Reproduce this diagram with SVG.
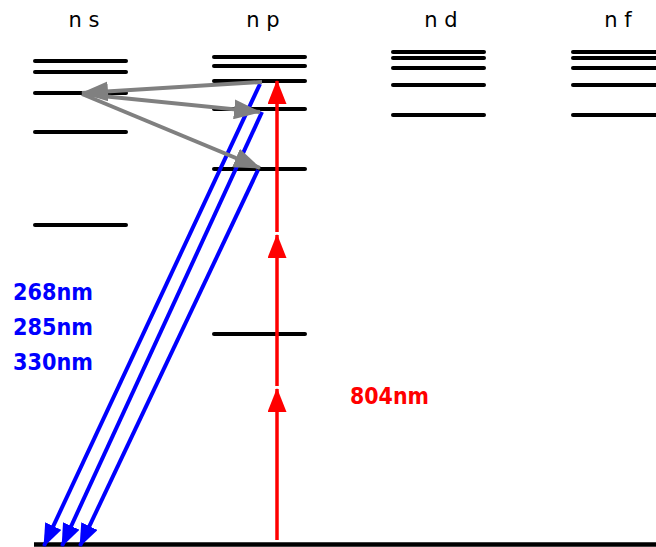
<svg xmlns="http://www.w3.org/2000/svg" width="656" height="547" viewBox="0 0 656 547">
<style>
.lvl{stroke:#000;stroke-width:4;stroke-linecap:round;fill:none}
.hdr{font-family:"DejaVu Sans",sans-serif;font-size:21px;fill:#000;text-anchor:middle}
.wl{font-family:"DejaVu Sans",sans-serif;font-size:23px;font-weight:bold}
.blue{stroke:#0000ff;stroke-width:4;fill:none}
.red{stroke:#ff0000;stroke-width:3.5;fill:none}
.gray{stroke:#808080;stroke-width:4;fill:none}
</style>
<defs>
<marker id="ab" viewBox="0 0 23 18" refX="22" refY="9" markerWidth="23" markerHeight="18" markerUnits="userSpaceOnUse" orient="auto"><path d="M0,0 L23,9 L0,18 z" fill="#0000ff"/></marker>
<marker id="ar" viewBox="0 0 24 19" refX="23" refY="9.5" markerWidth="24" markerHeight="19" markerUnits="userSpaceOnUse" orient="auto"><path d="M0,0 L24,9.5 L0,19 z" fill="#ff0000"/></marker>
<marker id="ag" viewBox="0 0 27 20" refX="26" refY="10" markerWidth="27" markerHeight="20" markerUnits="userSpaceOnUse" orient="auto"><path d="M0,0 L27,10 L0,20 z" fill="#808080"/></marker>
</defs>
<g id="labels">
<text class="hdr" x="84" y="27">n s</text>
<text class="hdr" x="263" y="27">n p</text>
<text class="hdr" x="441" y="27">n d</text>
<text class="hdr" x="618" y="27">n f</text>
</g>
<g id="ns">
<line class="lvl" x1="35" y1="61" x2="126" y2="61"/>
<line class="lvl" x1="35" y1="72" x2="126" y2="72"/>
<line class="lvl" x1="35" y1="93" x2="126" y2="93"/>
<line class="lvl" x1="35" y1="132" x2="126" y2="132"/>
<line class="lvl" x1="35" y1="225" x2="126" y2="225"/>
</g>
<g id="np">
<line class="lvl" x1="214" y1="57" x2="305" y2="57"/>
<line class="lvl" x1="214" y1="66" x2="305" y2="66"/>
<line class="lvl" x1="214" y1="81" x2="305" y2="81"/>
<line class="lvl" x1="214" y1="109" x2="305" y2="109"/>
<line class="lvl" x1="214" y1="169" x2="305" y2="169"/>
<line class="lvl" x1="214" y1="334" x2="305" y2="334"/>
</g>
<g id="nd">
<line class="lvl" x1="393" y1="52" x2="484" y2="52"/>
<line class="lvl" x1="393" y1="58" x2="484" y2="58"/>
<line class="lvl" x1="393" y1="68" x2="484" y2="68"/>
<line class="lvl" x1="393" y1="85" x2="484" y2="85"/>
<line class="lvl" x1="393" y1="115" x2="484" y2="115"/>
</g>
<g id="nf">
<line class="lvl" x1="573" y1="52" x2="664" y2="52"/>
<line class="lvl" x1="573" y1="58" x2="664" y2="58"/>
<line class="lvl" x1="573" y1="68" x2="664" y2="68"/>
<line class="lvl" x1="573" y1="85" x2="664" y2="85"/>
<line class="lvl" x1="573" y1="115" x2="664" y2="115"/>
</g>
<g id="ground">
<line x1="34" y1="544.5" x2="660" y2="544.5" stroke="#000" stroke-width="4.5"/>
</g>
<g id="connectors">
<line class="blue" x1="260" y1="84" x2="44" y2="546" marker-end="url(#ab)"/>
<line class="blue" x1="262" y1="112" x2="62" y2="546" marker-end="url(#ab)"/>
<line class="blue" x1="258" y1="170" x2="80" y2="546" marker-end="url(#ab)"/>
<line class="red" x1="277" y1="540" x2="277" y2="389" marker-end="url(#ar)"/>
<line class="red" x1="277" y1="386" x2="277" y2="235" marker-end="url(#ar)"/>
<line class="red" x1="277" y1="232" x2="277" y2="81" marker-end="url(#ar)"/>
<line class="gray" x1="262" y1="82" x2="82" y2="93" marker-end="url(#ag)"/>
<line class="gray" x1="82" y1="94" x2="260" y2="112" marker-end="url(#ag)"/>
<line class="gray" x1="82" y1="94" x2="260" y2="168" marker-end="url(#ag)"/>
</g>
<g id="wavelengths">
<text class="wl" fill="#0000ff" x="13" y="300" textLength="80" lengthAdjust="spacingAndGlyphs">268nm</text>
<text class="wl" fill="#0000ff" x="13" y="335" textLength="80" lengthAdjust="spacingAndGlyphs">285nm</text>
<text class="wl" fill="#0000ff" x="13" y="370" textLength="80" lengthAdjust="spacingAndGlyphs">330nm</text>
<text class="wl" fill="#ff0000" x="350" y="404" textLength="79" lengthAdjust="spacingAndGlyphs">804nm</text>
</g>
</svg>
